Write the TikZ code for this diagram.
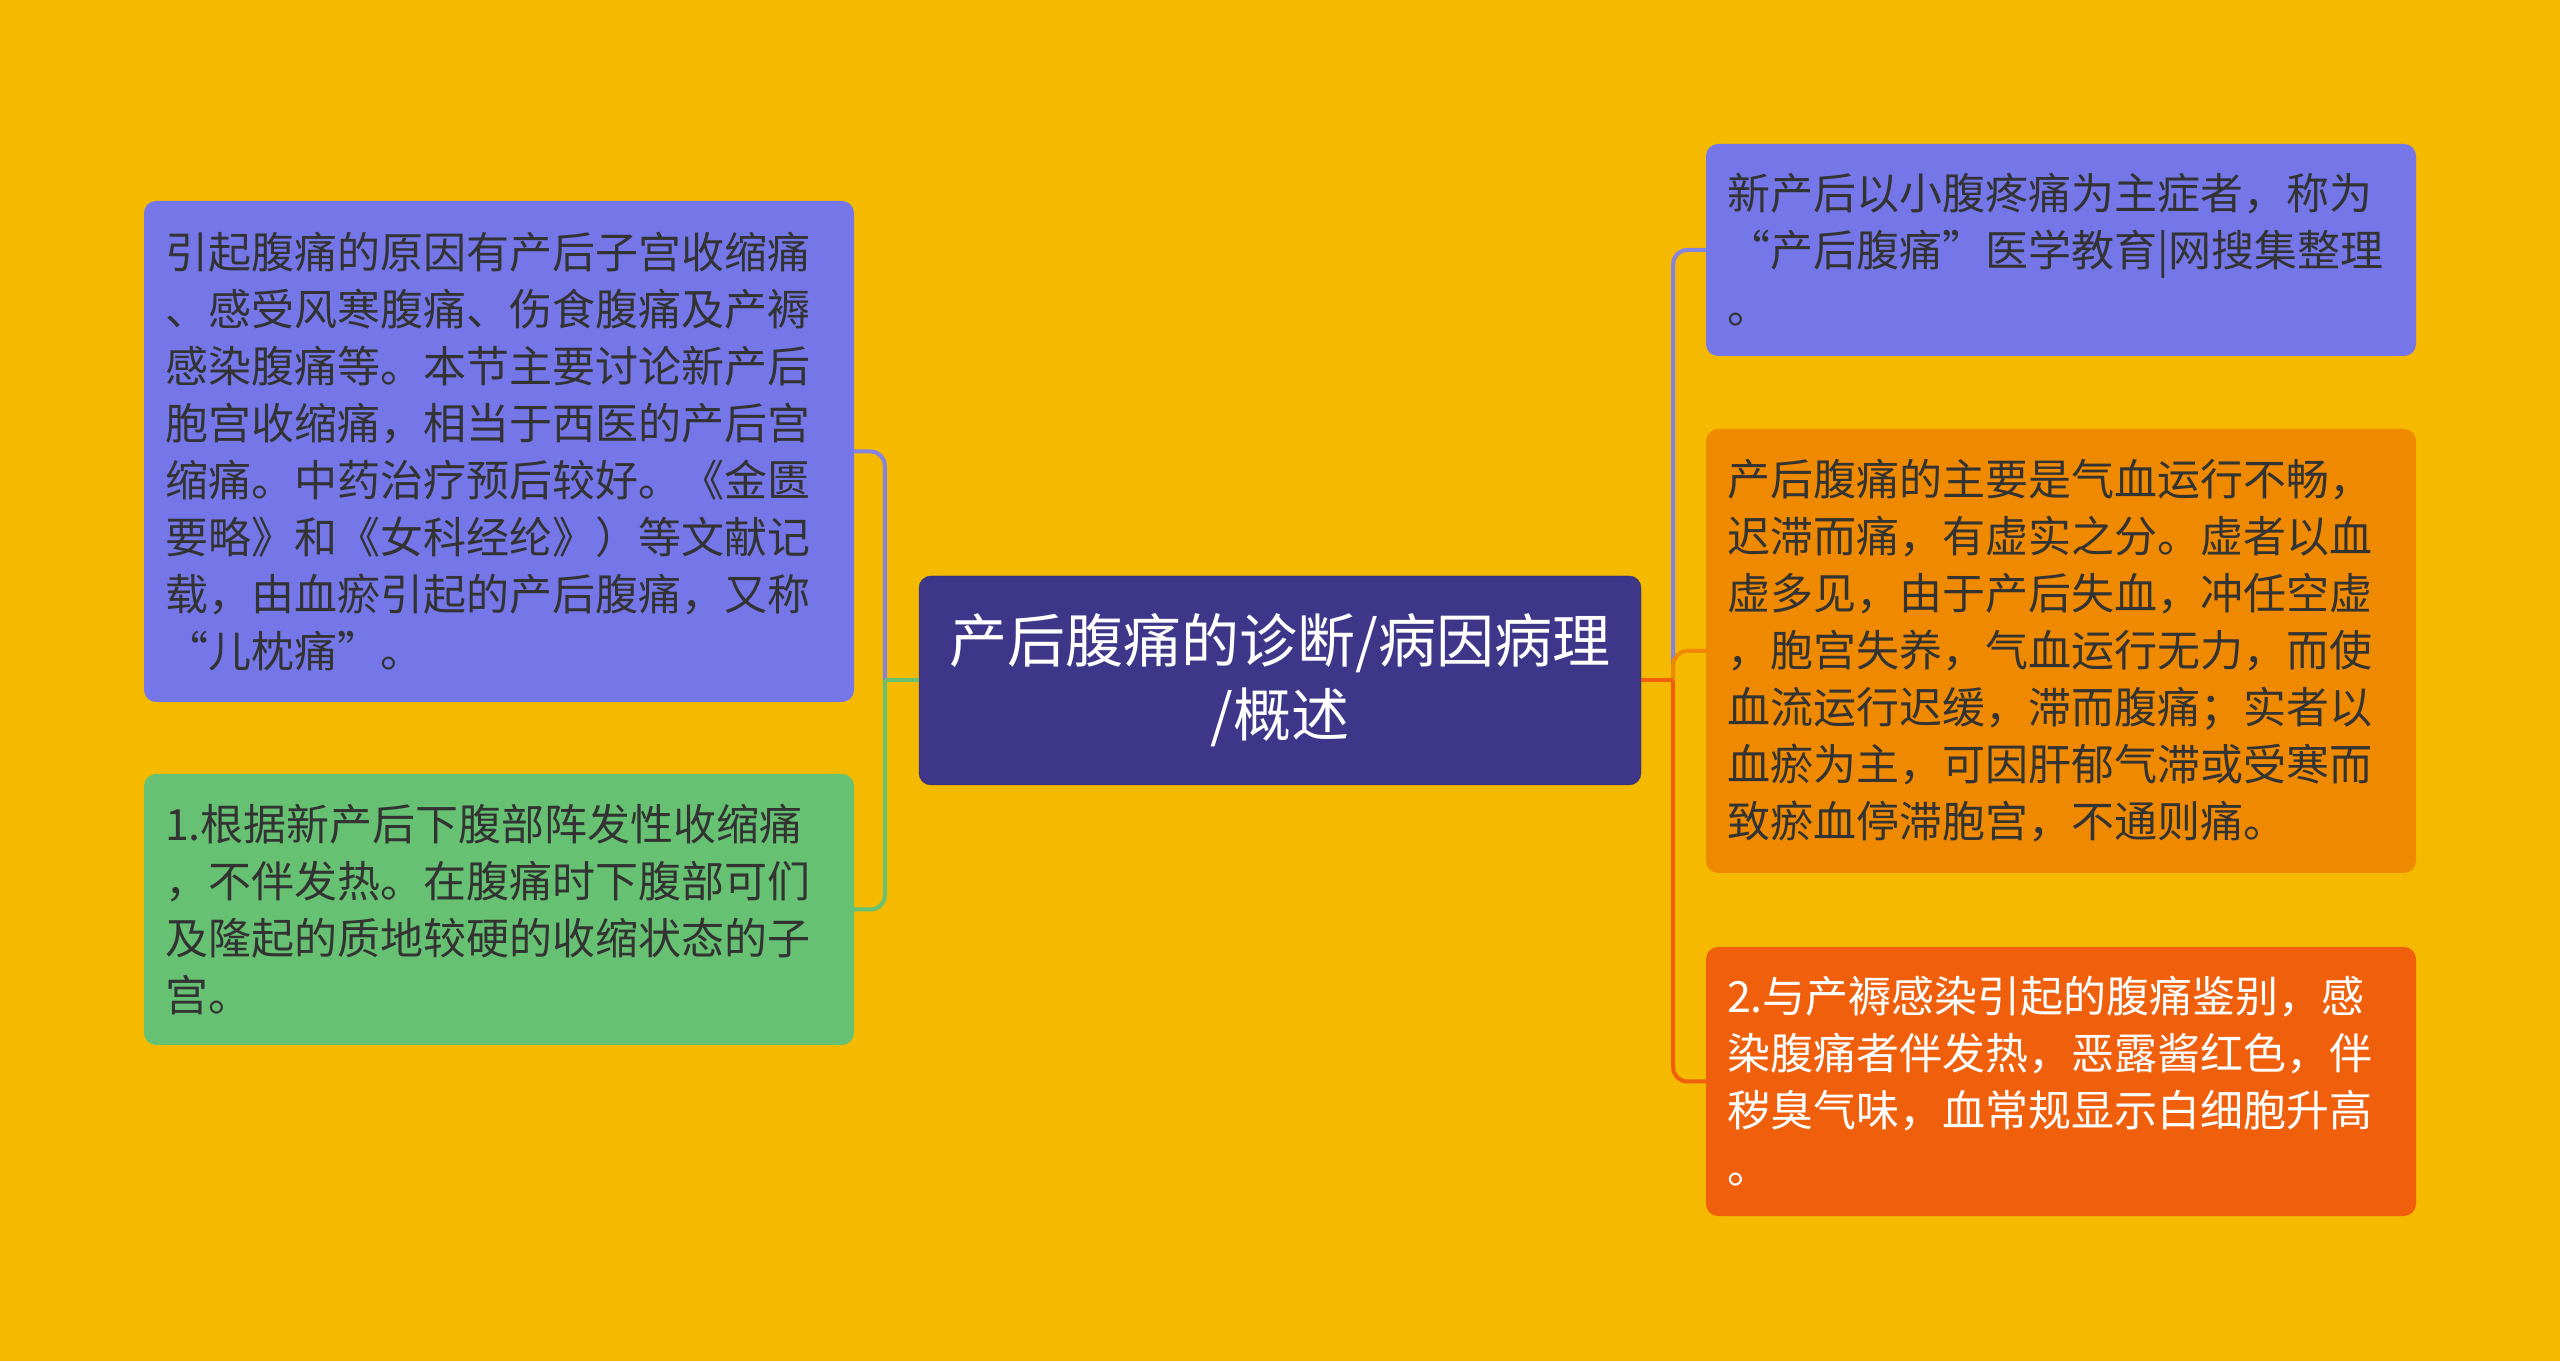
\documentclass[tikz,border=0pt]{standalone}
\usepackage{fontspec}
\setmainfont{Noto Sans CJK SC}
\usetikzlibrary{positioning}
\definecolor{bg}{HTML}{F5B900}
\definecolor{lilac}{HTML}{7577E9}
\definecolor{lilacline}{HTML}{8483DF}
\definecolor{navy}{HTML}{3D3689}
\definecolor{leafgreen}{HTML}{66C172}
\definecolor{amber}{HTML}{EF8A00}
\definecolor{flame}{HTML}{F05F0B}
\definecolor{ink}{HTML}{333333}

\begin{document}
\begin{tikzpicture}[x=1pt,y=1pt,on grid,node distance=781pt,
  root/.style={rectangle,rounded corners=12pt,fill=navy,draw=navy!80!black,text=white,
    minimum width=722pt,minimum height=209pt,align=center,
    font=\fontsize{58pt}{74pt}\selectfont},
  leaf/.style={rectangle,rounded corners=12pt,fill=#1,text=ink,text width=668pt,
    inner xsep=21pt,align=left,font=\fontsize{43pt}{57pt}\selectfont},
  lnk/.style={draw=#1,line width=4pt}]
  \useasboundingbox[fill=bg] (0,0) rectangle (2560,1361);

  \node[root] (root) at (1280,680.5) {产后腹痛的诊断/病因病理\\/概述};

  % left side
  \node[leaf=lilac, minimum height=501pt] (ltop) [above left=229pt and 781pt of root]
    {引起腹痛的原因有产后子宫收缩痛\\、感受风寒腹痛、伤食腹痛及产褥\\感染腹痛等。本节主要讨论新产后\\胞宫收缩痛，相当于西医的产后宫\\缩痛。中药治疗预后较好。《金匮\\要略》和《女科经纶》）等文献记\\载，由血瘀引起的产后腹痛，又称\\“儿枕痛”。};
  \node[leaf=leafgreen, minimum height=271pt] (lbot) [below left=229pt and 781pt of root]
    {1.根据新产后下腹部阵发性收缩痛\\，不伴发热。在腹痛时下腹部可们\\及隆起的质地较硬的收缩状态的子\\宫。};

  % right side
  \node[leaf=amber, minimum height=444pt] (rmid) [above right=29.5pt and 781pt of root]
    {产后腹痛的主要是气血运行不畅，\\迟滞而痛，有虚实之分。虚者以血\\虚多见，由于产后失血，冲任空虚\\，胞宫失养，气血运行无力，而使\\血流运行迟缓，滞而腹痛；实者以\\血瘀为主，可因肝郁气滞或受寒而\\致瘀血停滞胞宫，不通则痛。};
  \node[leaf=lilac, minimum height=212pt] (rtop) [above=401pt of rmid]
    {新产后以小腹疼痛为主症者，称为\\“产后腹痛”医学教育|网搜集整理\\。};
  \node[leaf=flame, minimum height=269pt, text=white] (rbot) [below=430.5pt of rmid]
    {2.与产褥感染引起的腹痛鉴别，感\\染腹痛者伴发热，恶露酱红色，伴\\秽臭气味，血常规显示白细胞升高\\。};

  \coordinate[left=34pt of root.west] (lj);
  \coordinate[right=32pt of root.east] (rj);

  \draw[lnk=lilacline, rounded corners=14pt] (lj) |- (ltop.east);
  \draw[lnk=leafgreen, rounded corners=14pt] (lj) |- (lbot.east);
  \draw[lnk=leafgreen] (root.west) -- (lj);

  \draw[lnk=lilacline, rounded corners=14pt] (rj) |- (rtop.west);
  \draw[lnk=amber, rounded corners=14pt] (rj) |- (rmid.west);
  \draw[lnk=flame, rounded corners=14pt] (rj) |- (rbot.west);
  \draw[lnk=flame] (root.east) -- (rj);
\end{tikzpicture}
\end{document}
